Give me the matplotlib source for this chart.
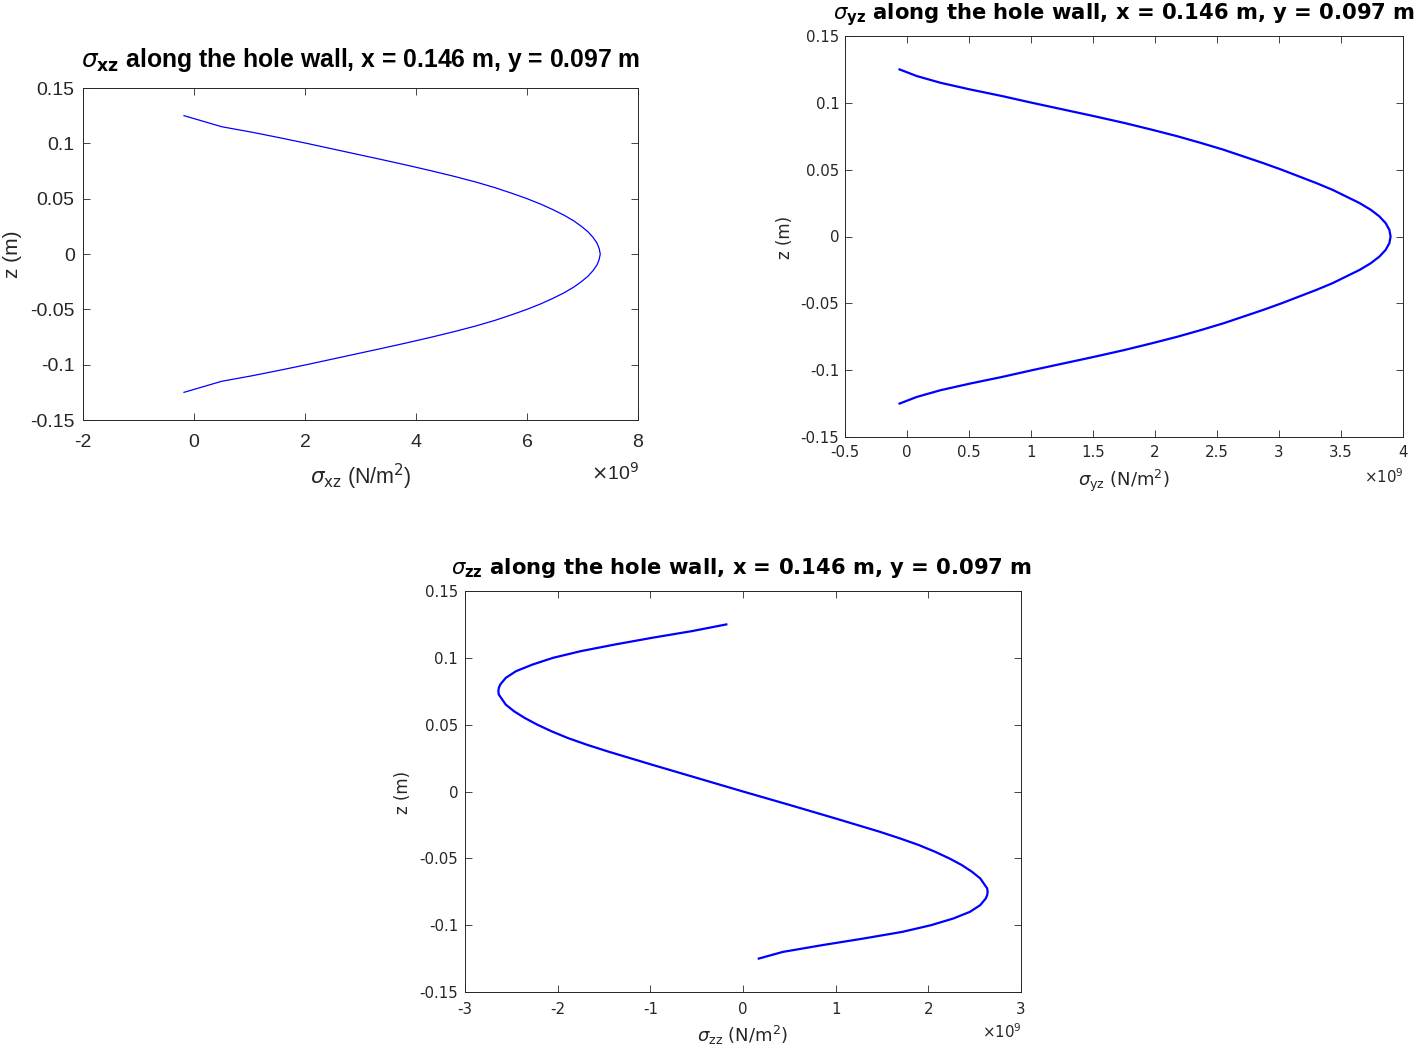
import numpy as np
import matplotlib
matplotlib.use("Agg")
import matplotlib.pyplot as plt

# ---------------- data (stress values in units of 1e9 N/m^2) ----------------
# sigma_xz along the hole wall
z_xz_top = [0.125, 0.115, 0.11, 0.105, 0.10, 0.095, 0.09, 0.085, 0.08, 0.075, 0.07, 0.065, 0.06,
            0.055, 0.05, 0.045, 0.04, 0.035, 0.03, 0.025, 0.02, 0.015, 0.01, 0.005]
s_xz_top = [-0.18, 0.50, 1.05, 1.55, 2.03, 2.49, 2.95, 3.41, 3.86, 4.29, 4.70, 5.08, 5.42,
            5.72, 6.00, 6.25, 6.47, 6.67, 6.84, 6.98, 7.10, 7.19, 7.26, 7.30]
z_xz_mid = [0.0]
s_xz_mid = [7.32]
z_xz_bot = [-0.005, -0.01, -0.015, -0.02, -0.025, -0.03, -0.035, -0.04, -0.045, -0.05, -0.055,
            -0.06, -0.065, -0.07, -0.075, -0.08, -0.085, -0.09, -0.095, -0.10, -0.105, -0.11,
            -0.115, -0.125]
s_xz_bot = [7.30, 7.26, 7.19, 7.10, 6.98, 6.84, 6.67, 6.47, 6.25, 6.00, 5.72,
            5.42, 5.08, 4.70, 4.29, 3.86, 3.41, 2.95, 2.49, 2.03, 1.55, 1.05,
            0.50, -0.18]

# sigma_yz along the hole wall
z_yz_top = [0.125, 0.12, 0.115, 0.11, 0.105, 0.10, 0.095, 0.09, 0.085, 0.08, 0.075, 0.07, 0.065,
            0.06, 0.055, 0.05, 0.045, 0.04, 0.035, 0.03, 0.025, 0.02, 0.015, 0.01, 0.005]
s_yz_top = [-0.06, 0.08, 0.27, 0.51, 0.77, 1.01, 1.26, 1.51, 1.75, 1.97, 2.18, 2.37, 2.55,
            2.71, 2.87, 3.02, 3.16, 3.30, 3.43, 3.54, 3.65, 3.74, 3.81, 3.86, 3.89]
z_yz_mid = [0.0]
s_yz_mid = [3.90]
z_yz_bot = [-0.005, -0.01, -0.015, -0.02, -0.025, -0.03, -0.035, -0.04, -0.045, -0.05, -0.055,
            -0.06, -0.065, -0.07, -0.075, -0.08, -0.085, -0.09, -0.095, -0.10, -0.105, -0.11,
            -0.115, -0.12, -0.125]
s_yz_bot = [3.89, 3.86, 3.81, 3.74, 3.65, 3.54, 3.43, 3.30, 3.16, 3.02, 2.87,
            2.71, 2.55, 2.37, 2.18, 1.97, 1.75, 1.51, 1.26, 1.01, 0.77, 0.51,
            0.27, 0.08, -0.06]

# sigma_zz along the hole wall
z_zz_top = [0.125, 0.12, 0.115, 0.11, 0.105, 0.10, 0.095, 0.09, 0.085, 0.08, 0.0775, 0.075, 0.0725,
            0.07, 0.065, 0.06, 0.055, 0.05, 0.045, 0.04, 0.035, 0.03, 0.025, 0.02, 0.015, 0.01, 0.005]
s_zz_top = [-0.18, -0.55, -0.98, -1.38, -1.75, -2.05, -2.27, -2.45, -2.56, -2.62, -2.635, -2.64, -2.635,
            -2.61, -2.56, -2.47, -2.355, -2.22, -2.065, -1.89, -1.685, -1.46, -1.22, -0.98, -0.735, -0.49, -0.245]
z_zz_mid = [0.0]
s_zz_mid = [0.0]
z_zz_bot = [-0.005, -0.01, -0.015, -0.02, -0.025, -0.03, -0.035, -0.04, -0.045, -0.05, -0.055,
            -0.06, -0.065, -0.07, -0.0725, -0.075, -0.0775, -0.08, -0.085, -0.09, -0.095, -0.10,
            -0.105, -0.11, -0.115, -0.12, -0.125]
s_zz_bot = [0.25, 0.50, 0.745, 0.99, 1.23, 1.47, 1.69, 1.895, 2.07, 2.225, 2.36,
            2.47, 2.56, 2.61, 2.635, 2.64, 2.635, 2.62, 2.56, 2.45, 2.27, 2.03,
            1.72, 1.30, 0.85, 0.43, 0.17]

x_ticks_xz = [-2, 0, 2, 4, 6, 8]
x_ticks_yz = [-0.5, 0, 0.5, 1, 1.5, 2, 2.5, 3, 3.5, 4]
x_ticks_zz = [-3, -2, -1, 0, 1, 2, 3]
y_ticks = [-0.15, -0.1, -0.05, 0, 0.05, 0.1, 0.15]
y_tick_labels = ["-0.15", "-0.1", "-0.05", "0", "0.05", "0.1", "0.15"]

W, H = 1419, 1053
fig = plt.figure(figsize=(W / 100, H / 100), dpi=100)
fig.patch.set_facecolor("white")

def rect(l, t, r, b):
    return [l / W, 1 - b / H, (r - l) / W, (b - t) / H]

def P(x, y):
    return x / W, 1 - y / H

DARK = "#262626"
BLUE = (0, 0, 1)

def fmt(v):
    return ("%g" % v)

def style_axes(ax, xlim, xticks, fam, fs, xpad, ypad, ticklen):
    ax.set_xlim(*xlim)
    ax.set_ylim(-0.15, 0.15)
    ax.set_xticks(xticks)
    ax.set_xticklabels([fmt(v) for v in xticks])
    ax.set_yticks(y_ticks)
    ax.set_yticklabels(y_tick_labels)
    ax.tick_params(direction="in", top=True, right=True, length=ticklen, width=0.6,
                   colors=DARK, labelsize=fs)
    ax.tick_params(axis="x", pad=xpad)
    ax.tick_params(axis="y", pad=ypad)
    for lab in ax.get_xticklabels() + ax.get_yticklabels():
        lab.set_family(fam)
    for sp in ax.spines.values():
        sp.set_color(DARK)
        sp.set_linewidth(0.7)

def series(top, mid, bot):
    return list(top) + list(mid) + list(bot)

# ---------------- top-left: sigma_xz ----------------
fam1 = ["Liberation Sans", "DejaVu Sans"]
ax1 = fig.add_axes(rect(83, 88, 638, 420))
ax1.plot(series(s_xz_top, s_xz_mid, s_xz_bot), series(z_xz_top, z_xz_mid, z_xz_bot),
         color=BLUE, lw=0.9)
style_axes(ax1, (-2, 8), x_ticks_xz, fam1, 14, 10, 6, 5)
fig.text(*P(361, 67), r"$\sigma_{\mathbf{xz}}$ along the hole wall, x = 0.146 m, y = 0.097 m",
         ha="center", va="baseline", fontsize=17.8, fontweight="bold", family=fam1, color="black")
fig.text(*P(361, 477), r"$\sigma_{\rm xz}$ (N/m$^2$)", ha="center", va="center",
         fontsize=15.5, family=fam1, color=DARK)
fig.text(*P(13, 254), "z (m)", ha="center", va="center", rotation=90,
         fontsize=15, family=fam1, color=DARK)
fig.text(*P(639, 473), r"$\times$10$^9$", ha="right", va="center",
         fontsize=14, family=fam1, color=DARK)

# ---------------- top-right: sigma_yz ----------------
fam2 = ["DejaVu Sans"]
ax2 = fig.add_axes(rect(845, 36, 1403, 437))
ax2.plot(series(s_yz_top, s_yz_mid, s_yz_bot), series(z_yz_top, z_yz_mid, z_yz_bot),
         color=BLUE, lw=1.6)
style_axes(ax2, (-0.5, 4), x_ticks_yz, fam2, 10.8, 6, 4, 5)
fig.text(*P(1124, 19), r"$\sigma_{\mathbf{yz}}$ along the hole wall, x = 0.146 m, y = 0.097 m",
         ha="center", va="baseline", fontsize=15.2, fontweight="bold", family=fam2, color="black")
fig.text(*P(1124, 481), r"$\sigma_{\rm yz}$ (N/m$^2$)", ha="center", va="center",
         fontsize=13, family=fam2, color=DARK)
fig.text(*P(785, 237), "z (m)", ha="center", va="center", rotation=90,
         fontsize=12, family=fam2, color=DARK)
fig.text(*P(1404, 477), r"$\times$10$^9$", ha="right", va="center",
         fontsize=10.8, family=fam2, color=DARK)

# ---------------- bottom: sigma_zz ----------------
ax3 = fig.add_axes(rect(465, 591, 1021, 992))
ax3.plot(series(s_zz_top, s_zz_mid, s_zz_bot), series(z_zz_top, z_zz_mid, z_zz_bot),
         color=BLUE, lw=1.6)
style_axes(ax3, (-3, 3), x_ticks_zz, fam2, 10.8, 7, 5, 5)
fig.text(*P(742, 574), r"$\sigma_{\mathbf{zz}}$ along the hole wall, x = 0.146 m, y = 0.097 m",
         ha="center", va="baseline", fontsize=15.2, fontweight="bold", family=fam2, color="black")
fig.text(*P(743, 1035), r"$\sigma_{\rm zz}$ (N/m$^2$)", ha="center", va="center",
         fontsize=13, family=fam2, color=DARK)
fig.text(*P(403, 792), "z (m)", ha="center", va="center", rotation=90,
         fontsize=12, family=fam2, color=DARK)
fig.text(*P(1022, 1032), r"$\times$10$^9$", ha="right", va="center",
         fontsize=10.8, family=fam2, color=DARK)

fig.savefig("out.png", dpi=100, facecolor="white")
